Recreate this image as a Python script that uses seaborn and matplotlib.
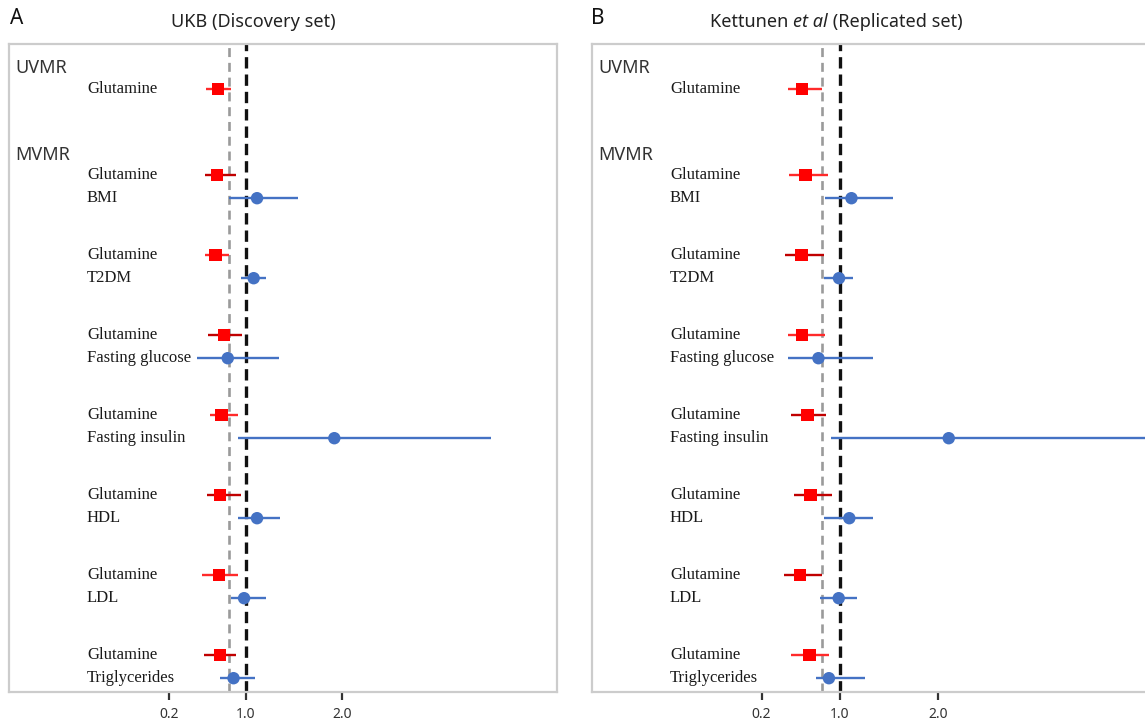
import numpy as np
import pandas as pd
import matplotlib
matplotlib.use("Agg")
import matplotlib.pyplot as plt
import seaborn as sns

# ---------------------------------------------------------------- data
exposures = ["BMI", "T2DM", "Fasting glucose", "Fasting insulin",
             "HDL", "LDL", "Triglycerides"]

# UKB (Discovery set): odds ratios with 95% CI
ukb_uv = (0.71, 0.583, 0.84)
ukb_glu_or = [0.70, 0.684, 0.77, 0.746, 0.73, 0.72, 0.73]
ukb_glu_lo = [0.573, 0.576, 0.607, 0.625, 0.597, 0.54, 0.56]
ukb_glu_hi = [0.90, 0.823, 0.96, 0.92, 0.948, 0.92, 0.90]
ukb_exp_or = [1.115, 1.08, 0.81, 1.92, 1.115, 0.98, 0.87]
ukb_exp_lo = [0.823, 0.945, 0.49, 0.92, 0.92, 0.84, 0.73]
ukb_exp_hi = [1.54, 1.21, 1.34, 3.55, 1.35, 1.21, 1.09]

# Kettunen et al (Replicated set)
ket_uv = (0.61, 0.467, 0.82)
ket_glu_or = [0.646, 0.605, 0.615, 0.667, 0.70, 0.59, 0.69]
ket_glu_lo = [0.477, 0.443, 0.467, 0.498, 0.53, 0.43, 0.50]
ket_glu_hi = [0.873, 0.835, 0.845, 0.856, 0.92, 0.82, 0.89]
ket_exp_or = [1.117, 0.99, 0.78, 2.11, 1.095, 0.987, 0.887]
ket_exp_lo = [0.845, 0.835, 0.474, 0.904, 0.835, 0.795, 0.753]
ket_exp_hi = [1.54, 1.137, 1.34, 4.40, 1.335, 1.175, 1.257]

x_ticks = [0.2, 1.0, 2.0]
x_tick_labels = ["0.2", "1.0", "2.0"]
null_line = 1.0
ref_line = 0.82

# ---------------------------------------------------------------- style
sns.set_style("white")
SANS = ["Noto Sans", "DejaVu Sans"]
SERIF = ["Liberation Serif", "DejaVu Serif"]
plt.rcParams["font.family"] = SANS

RED = "#ff0000"
RED_BRIGHT = "#ff2a2a"
RED_DARK = "#c00000"
BLUE = "#4472c4"
BLUE_LINE = "#4472c4"

W, H = 1145, 722
fig = plt.figure(figsize=(W / 100, H / 100), dpi=100)


def fx(px):
    return px / W


def fy(px):
    return 1 - px / H


def build_frame(uv, g_or, g_lo, g_hi, e_or, e_lo, e_hi):
    rows = [("Glutamine", "glu", 0.5625, *uv)]
    for k, name in enumerate(exposures):
        base = 1.6375 + k
        rows.append(("Glutamine", "glu", base, g_or[k], g_lo[k], g_hi[k]))
        rows.append((name, "exp", base + 0.29, e_or[k], e_lo[k], e_hi[k]))
    return pd.DataFrame(rows, columns=["label", "kind", "y", "or", "lo", "hi"])


def draw_panel(ax, df, xlim, glu_line_cols, width_px):
    ax.set_xlim(*xlim)
    ax.set_ylim(8.1, 0)

    ax.axvline(ref_line, color="#9a9a9a", lw=1.9, dashes=(3.4, 2.2), zorder=1)
    ax.axvline(null_line, color="#111111", lw=2.4, dashes=(3.4, 1.8), zorder=1)

    line_cols = []
    gi = 0
    for kind in df["kind"]:
        if kind == "glu":
            line_cols.append(glu_line_cols[gi])
            gi += 1
        else:
            line_cols.append(BLUE_LINE)
    ax.hlines(df["y"], df["lo"], df["hi"], colors=line_cols, lw=1.7, zorder=2)

    sns.scatterplot(data=df, x="or", y="y", hue="kind", style="kind",
                    markers={"glu": "s", "exp": "o"},
                    palette={"glu": RED, "exp": BLUE},
                    s=80, linewidth=0, legend=False, ax=ax, zorder=3)

    lx = 78 / width_px
    for _, r in df.iterrows():
        ax.text(lx, r["y"], r["label"], transform=ax.get_yaxis_transform(),
                family=SERIF, fontsize=12, color="#1a1a1a",
                ha="left", va="center")
    hx = 6 / width_px
    ax.text(hx, 0.30, "UVMR", transform=ax.get_yaxis_transform(),
            fontsize=13, color="#333333", ha="left", va="center")
    ax.text(hx, 1.39, "MVMR", transform=ax.get_yaxis_transform(),
            fontsize=13, color="#333333", ha="left", va="center")

    ax.set_xlabel("")
    ax.set_ylabel("")
    ax.set_yticks([])
    ax.set_xticks(x_ticks)
    ax.set_xticklabels(x_tick_labels)
    ax.tick_params(axis="x", direction="out", length=6, width=1.6,
                   color="#333333", labelsize=10, labelcolor="#333333", pad=5,
                   bottom=True)
    for sp in ax.spines.values():
        sp.set_visible(True)
        sp.set_color("#cccccc")
        sp.set_linewidth(1.6)


ax_top, ax_bot = 44, 692

# Panel A
a_left, a_w = 9, 548
ax_a = fig.add_axes([fx(a_left), fy(ax_bot), a_w / W, (ax_bot - ax_top) / H])
df_a = build_frame(ukb_uv, ukb_glu_or, ukb_glu_lo, ukb_glu_hi,
                   ukb_exp_or, ukb_exp_lo, ukb_exp_hi)
draw_panel(ax_a, df_a, (-1.469, 4.24),
           [RED_BRIGHT, RED_DARK, RED_BRIGHT, RED_DARK, RED_BRIGHT,
            RED_DARK, RED_BRIGHT, RED_DARK], a_w)

# Panel B
b_left, b_w = 592, 569
ax_b = fig.add_axes([fx(b_left), fy(ax_bot), b_w / W, (ax_bot - ax_top) / H])
df_b = build_frame(ket_uv, ket_glu_or, ket_glu_lo, ket_glu_hi,
                   ket_exp_or, ket_exp_lo, ket_exp_hi)
draw_panel(ax_b, df_b, (-1.531, 4.276),
           [RED_BRIGHT, RED_BRIGHT, RED_DARK, RED_BRIGHT, RED_DARK,
            RED_DARK, RED_DARK, RED_BRIGHT], b_w)

# Panel letters
fig.text(fx(a_left + 1), fy(18), "A", fontsize=15, color="#111111",
         ha="left", va="center")
fig.text(fx(b_left - 1), fy(18), "B", fontsize=15, color="#111111",
         ha="left", va="center")

# Titles
renderer = fig.canvas.get_renderer()


def rich_title(xc_px, yc_px, parts, size=13):
    texts = [fig.text(0, fy(yc_px), s, fontsize=size, fontstyle=st,
                      color="#222222", ha="left", va="center")
             for s, st in parts]
    widths = [t.get_window_extent(renderer).width for t in texts]
    x = xc_px - sum(widths) / 2
    for t, w in zip(texts, widths):
        t.set_x(fx(x))
        x += w


rich_title(a_left + 244, 22, [("UKB (Discovery set)", "normal")])
rich_title(b_left + 244, 22, [("Kettunen ", "normal"), ("et al", "italic"),
                              (" (Replicated set)", "normal")])

fig.savefig("out.png", dpi=100)
